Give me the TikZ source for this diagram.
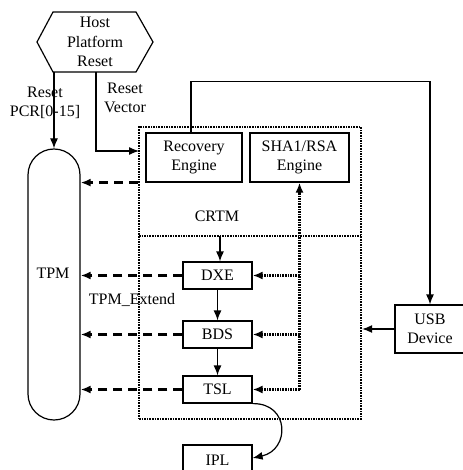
\documentclass[tikz,border=0pt]{standalone}
\usepackage{fontspec}
\setmainfont{Liberation Serif}
\usetikzlibrary{arrows.meta}
\begin{document}
\begin{tikzpicture}[x=1pt,y=-1pt,
  font=\fontsize{16}{19.5}\selectfont,
  box/.style={draw, line width=1.2pt, inner sep=0pt, align=center},
  solidline/.style={line width=1.2pt},
  arr/.style={-{Latex[length=10pt,width=8pt]}},
  dashline/.style={line width=2.2pt, dash pattern=on 9pt off 6pt},
  dotline/.style={line width=2.3pt, dash pattern=on 1.6pt off 1pt},
  lbl/.style={inner sep=0pt, align=center},
]
\useasboundingbox (0,0) rectangle (462,470);
% hexagon
\draw[solidline] (37,42) -- (53,12) -- (136,12) -- (153,42) -- (136,72) -- (53,72) -- cycle;
\node[lbl] (hex) at (95,42) {Host\\Platform\\Reset};
\coordinate (hexL) at (54,72);
\coordinate (hexR) at (96,72);
% TPM
\node[draw, solidline, minimum width=52pt, minimum height=271pt, rounded corners=26pt, inner sep=0pt] (tpm) at (54,284.5) {};
\node[lbl] (tpmlbl) at (53,273) {TPM};
% CRTM
\node[draw, dotline, minimum width=222pt, minimum height=292pt, inner sep=0pt] (crtm) at (250,273) {};
\coordinate (divL) at (139,236);
\coordinate (divR) at (361,236);
\draw[dotline] (divL) -- (divR);
\node[lbl] (crtmlbl) at (217,216) {CRTM};
% boxes
\node[box, minimum width=96pt, minimum height=49pt] (rec) at (194,157.5) {Recovery\\Engine};
\node[box, minimum width=99pt, minimum height=49pt] (sha) at (299.5,157.5) {SHA1/RSA\\Engine};
\node[box, minimum width=69pt, minimum height=27pt] (dxe) at (217.5,275.5) {DXE};
\node[box, minimum width=69pt, minimum height=27pt] (bds) at (217.5,334.5) {BDS};
\node[box, minimum width=69pt, minimum height=27pt] (tsl) at (217.5,389.5) {TSL};
\node[box, minimum width=69pt, minimum height=30pt] (ipl) at (217.5,460) {IPL};
\node[box, minimum width=70pt, minimum height=48pt] (usb) at (430,329) {USB\\Device};
% labels
\node[lbl] (l1) at (45,103) {Reset\\PCR[0-15]};
\node[lbl] (l2) at (125,98) {Reset\\Vector};
\node[lbl] (l3) at (132,300) {TPM\_Extend};
% connectors
\draw[solidline,arr] (hexL) -- (tpm.north);
\coordinate (rv) at (139,151);
\draw[solidline,arr] (hexR) |- (rv);
\draw[solidline,arr] ([xshift=-3pt]rec.north) -- ++(0,-51) -| (usb.north);
\draw[solidline,arr] (usb.west) -- (crtm.east |- usb.west);
\draw[solidline,arr] ([xshift=2.5pt]dxe.north |- divL) -- ([xshift=2.5pt]dxe.north);
\draw[solidline,arr] (dxe) -- (bds);
\draw[solidline,arr] (bds) -- (tsl);
\draw[dashline,arr] (crtm.west |- rec.south) -- (tpm.east |- rec.south);
\draw[dashline,arr] (dxe.west) -- (tpm.east |- dxe.west);
\draw[dashline,arr] (bds.west) -- (tpm.east |- bds.west);
\draw[dashline,arr] (tsl.west) -- (tpm.east |- tsl.west);
\draw[dotline,arr] (sha.south |- tsl.east) -- (sha.south);
\draw[dotline,arr] (sha.south |- dxe.east) -- (dxe.east);
\draw[dotline,arr] (sha.south |- bds.east) -- (bds.east);
\draw[dotline,arr] (sha.south |- tsl.east) -- (tsl.east);
\draw[solidline,arr] (tsl.south east) .. controls (290,403) and (290,450) .. (ipl.east |- 0,458);
\end{tikzpicture}
\end{document}
